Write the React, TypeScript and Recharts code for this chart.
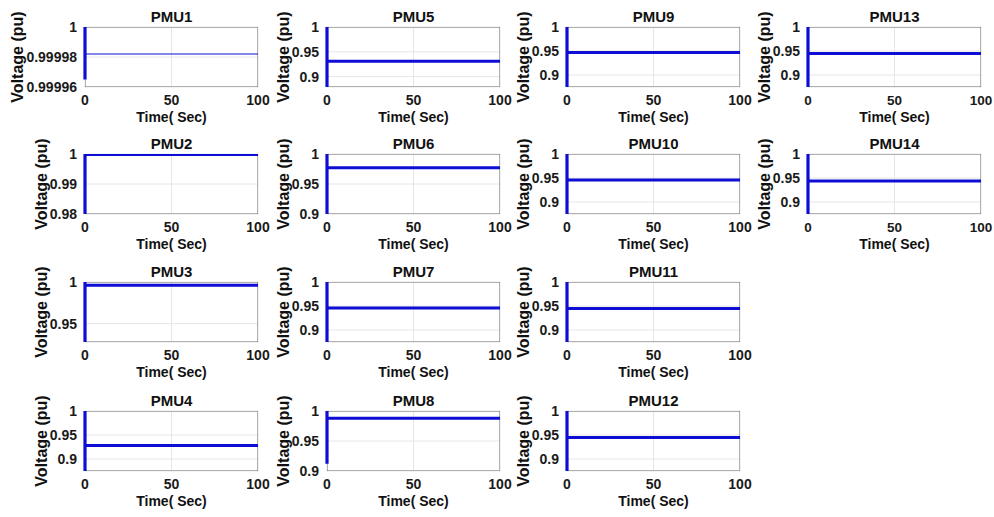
import React from "react";
import { LineChart, Line, XAxis, YAxis, CartesianGrid, ReferenceArea, Label } from "recharts";

// ---- data ----
const panelNames = ["PMU1", "PMU2", "PMU3", "PMU4", "PMU5", "PMU6", "PMU7", "PMU8", "PMU9", "PMU10", "PMU11", "PMU12", "PMU13", "PMU14"];
const timePoints = [0, 0, 0, 100];
const startValues = [0.999965, 0.98, 0.928, 0.875, 0.879, 0.9, 0.875, 0.912, 0.875, 0.875, 0.875, 0.875, 0.875, 0.875];
const peakValues = [1, 1, 1, 1, 1, 1, 1, 1, 1, 1, 1, 1, 1, 1];
const steadyValues = [0.999982, 0.9998, 0.996, 0.928, 0.931, 0.977, 0.946, 0.988, 0.947, 0.946, 0.945, 0.945, 0.945, 0.944];
const yDomains: [number, number][] = [
  [0.99996, 1], [0.98, 1], [0.928, 1], [0.875, 1],
  [0.879, 1], [0.9, 1], [0.875, 1], [0.9, 1],
  [0.875, 1], [0.875, 1], [0.875, 1], [0.875, 1],
  [0.875, 1], [0.875, 1],
];
const yTicks: number[][] = [
  [0.99996, 0.99998, 1], [0.98, 0.99, 1], [0.95, 1], [0.9, 0.95, 1],
  [0.9, 0.95, 1], [0.9, 0.95, 1], [0.9, 0.95, 1], [0.9, 0.95, 1],
  [0.9, 0.95, 1], [0.9, 0.95, 1], [0.9, 0.95, 1], [0.9, 0.95, 1],
  [0.9, 0.95, 1], [0.9, 0.95, 1],
];
const xTicks = [0, 50, 100];
const xLabel = "Time( Sec)";
const yLabel = "Voltage (pu)";

// ---- layout ----
const COL_LEFT = [85, 327, 567, 808];
const ROW_TOP = [27, 154, 282, 411];
const PLOT_W = 173;
const PLOT_H = 60;
const Y_AXIS_W = 65;
const M_TOP = 20;
const M_RIGHT = 16;
const X_AXIS_H = 40;
const FONT = '"Liberation Sans", Arial, Helvetica, sans-serif';
const BLUE = "#0d0dd6";

const fmt = (v: number) => String(Number(v.toFixed(5)));

function Panel({ idx }: { idx: number }) {
  const col = Math.floor(idx / 4);
  const row = idx % 4;
  const left = COL_LEFT[col];
  const top = ROW_TOP[row];
  const vals = [startValues[idx], peakValues[idx], steadyValues[idx], steadyValues[idx]];
  // transient part (first three points, at t = 0) and steady part (last two points)
  const data = timePoints.map((t, i) => ({
    t,
    tr: i <= 2 ? vals[i] : null,
    ss: i >= 2 ? vals[i] : null,
  }));
  const [lo, hi] = yDomains[idx];
  const ylabOffset = idx === 0 ? 67 : 43;
  const tickFont = col === 3 ? 13.5 : 14;
  return (
    <>
      <div
        style={{
          position: "absolute",
          left: left - Y_AXIS_W,
          top: top - M_TOP,
          width: Y_AXIS_W + PLOT_W + M_RIGHT,
          height: M_TOP + PLOT_H + X_AXIS_H,
        }}
      >
        <LineChart
          width={Y_AXIS_W + PLOT_W + M_RIGHT}
          height={M_TOP + PLOT_H + X_AXIS_H}
          data={data}
          margin={{ top: M_TOP, right: M_RIGHT, bottom: 0, left: 0 }}
        >
          <CartesianGrid stroke="#e6e6e6" strokeWidth={1} />
          <XAxis
            dataKey="t"
            type="number"
            domain={[0, 100]}
            ticks={xTicks}
            height={X_AXIS_H}
            axisLine={false}
            tickLine={false}
            tick={{ fill: "#1a1a1a", fontSize: tickFont, fontWeight: 700, fontFamily: FONT }}
            interval={0}
          >
            <Label
              value={xLabel}
              position="insideBottom"
              offset={5}
              style={{ fill: "#111", fontSize: 14, fontWeight: 700, fontFamily: FONT }}
            />
          </XAxis>
          <YAxis
            type="number"
            domain={[lo, hi]}
            ticks={yTicks[idx]}
            allowDataOverflow
            width={Y_AXIS_W}
            axisLine={false}
            tickLine={false}
            tickFormatter={fmt}
            interval={0}
            tick={{ fill: "#1a1a1a", fontSize: 14, fontWeight: 700, fontFamily: FONT }}
          />
          <ReferenceArea x1={0} x2={100} y1={lo} y2={hi} fill="none" stroke="#6e6e6e" strokeWidth={1} ifOverflow="hidden" />
          <Line
            dataKey="tr"
            stroke={BLUE}
            strokeWidth={3.2}
            dot={false}
            activeDot={false}
            connectNulls={false}
            isAnimationActive={false}
          />
          <Line
            dataKey="ss"
            stroke={BLUE}
            strokeWidth={idx === 0 ? 1.2 : 3}
            dot={false}
            activeDot={false}
            connectNulls={false}
            isAnimationActive={false}
          />
        </LineChart>
      </div>
      <div
        style={{
          position: "absolute",
          left: left + PLOT_W / 2,
          top: top - 11,
          transform: "translate(-50%, -50%)",
          fontFamily: FONT,
          fontWeight: 700,
          fontSize: 15,
          color: "#111",
          whiteSpace: "nowrap",
          lineHeight: 1,
        }}
      >
        {panelNames[idx]}
      </div>
      <div
        style={{
          position: "absolute",
          left: left - ylabOffset,
          top: top + PLOT_H / 2,
          transform: "translate(-50%, -50%) rotate(-90deg)",
          fontFamily: FONT,
          fontWeight: 700,
          fontSize: 16,
          color: "#111",
          whiteSpace: "nowrap",
          lineHeight: 1,
        }}
      >
        {yLabel}
      </div>
    </>
  );
}

export default function App() {
  return (
    <div style={{ position: "absolute", left: 0, top: 0, width: 994, height: 517, background: "#fff", overflow: "hidden" }}>
      {panelNames.map((_, i) => (
        <Panel key={i} idx={i} />
      ))}
    </div>
  );
}
